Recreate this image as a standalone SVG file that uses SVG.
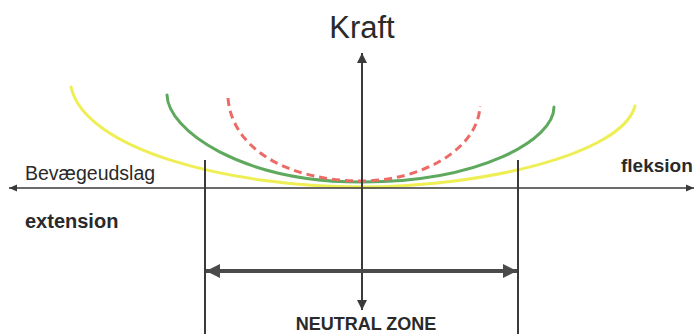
<svg xmlns="http://www.w3.org/2000/svg" width="696" height="334" viewBox="0 0 696 334">
  <defs>
    <style>
      .curve { fill: none; stroke-width: 3; stroke-linecap: round; }
      .yellow { stroke: #eeee55; }
      .green { stroke: #5ea95e; }
      .red { stroke: #ec6b66; stroke-dasharray: 8 5; stroke-linecap: butt; }
      .axis { fill: none; stroke: #3a3a3a; }
      .lbl { font-family: "Liberation Sans", Arial, sans-serif; fill: #2a2a2a; }
      .b { font-weight: bold; }
    </style>
    <marker id="ah" markerUnits="userSpaceOnUse" markerWidth="12" markerHeight="10" refX="10" refY="5" orient="auto">
      <path d="M0,0 L10,5 L0,10 Z" fill="#3a3a3a"/>
    </marker>
    <marker id="ahs" markerUnits="userSpaceOnUse" markerWidth="10" markerHeight="8" refX="8" refY="4" orient="auto">
      <path d="M0,0.5 L8,4 L0,7.5 Z" fill="#3a3a3a"/>
    </marker>
    <marker id="ahb" markerUnits="userSpaceOnUse" markerWidth="16" markerHeight="14" refX="14" refY="7" orient="auto">
      <path d="M0,0 L14,7 L0,14 Z" fill="#4a4a4a"/>
    </marker>
  </defs>

  <g id="curves">
    <path id="curve-yellow" class="curve yellow" d="M71,87 C85,150 230,187 362,187 C480,187 622,155 635,106"/>
    <path id="curve-green" class="curve green" d="M167,95 C168,130 240,182 362,182 C480,182 554,140 554,107"/>
    <path id="curve-red" class="curve red" d="M228,98 C232,150 290,181 362,181 C420,181 478,150 480,106"/>
  </g>

  <g id="connectors">
    <line id="x-axis-left" class="axis" x1="362" y1="188" x2="9" y2="188" stroke-width="1.5" marker-end="url(#ahs)"/>
    <line id="x-axis-right" class="axis" x1="362" y1="188" x2="694" y2="188" stroke-width="1.5" marker-end="url(#ahs)"/>
    <line id="y-axis-up" class="axis" x1="362" y1="188" x2="362" y2="53" stroke-width="2" marker-end="url(#ah)"/>
    <line id="y-axis-down" class="axis" x1="362" y1="188" x2="362" y2="310" stroke-width="2" marker-end="url(#ah)"/>
    <line id="bound-left" class="axis" x1="205" y1="160" x2="205" y2="334" stroke-width="2"/>
    <line id="bound-right" class="axis" x1="518" y1="160" x2="518" y2="334" stroke-width="2"/>
    <line id="zone-left" x1="362" y1="271" x2="206" y2="271" stroke="#4a4a4a" stroke-width="4" marker-end="url(#ahb)"/>
    <line id="zone-right" x1="362" y1="271" x2="517" y2="271" stroke="#4a4a4a" stroke-width="4" marker-end="url(#ahb)"/>
  </g>

  <g id="label-kraft"><text class="lbl" x="362" y="38" font-size="31" text-anchor="middle">Kraft</text></g>
  <g id="label-bevaegeudslag"><text class="lbl" x="25" y="180" font-size="19.5">Bevægeudslag</text></g>
  <g id="label-fleksion"><text class="lbl b" x="621" y="172" font-size="19">fleksion</text></g>
  <g id="label-extension"><text class="lbl b" x="25" y="228" font-size="20">extension</text></g>
  <g id="label-neutral-zone"><text class="lbl b" x="366" y="330" font-size="18" text-anchor="middle">NEUTRAL ZONE</text></g>
</svg>
